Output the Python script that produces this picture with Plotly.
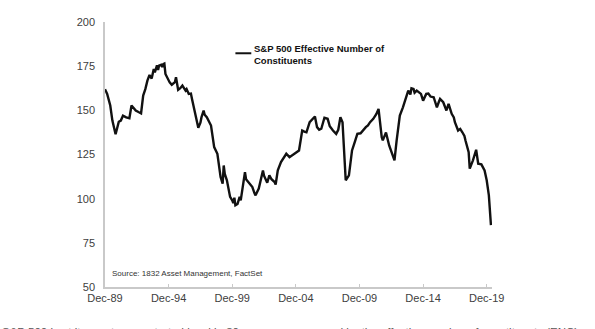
import plotly.graph_objects as go

# S&P 500 effective number of constituents, month-end readings
dates = [
    "1989-12", "1990-02", "1990-05", "1990-07", "1990-10", "1990-12", "1991-01", "1991-03",
    "1991-05", "1991-08", "1991-11", "1992-01", "1992-03", "1992-05", "1992-08", "1992-10",
    "1992-12", "1993-02", "1993-04", "1993-05", "1993-06", "1993-08", "1993-10", "1993-11",
    "1993-12", "1994-01", "1994-02", "1994-03", "1994-05", "1994-06", "1994-07", "1994-08",
    "1994-09", "1995-01", "1995-03", "1995-05", "1995-06", "1995-07", "1995-08", "1995-09",
    "1995-11", "1996-01", "1996-04", "1996-05", "1996-07", "1996-09", "1996-10", "1997-01",
    "1997-04", "1997-06", "1997-07", "1997-09", "1997-10", "1997-12", "1998-02", "1998-04",
    "1998-07", "1998-09", "1998-10", "1999-01", "1999-03", "1999-04", "1999-05", "1999-07",
    "1999-09", "1999-10", "1999-12", "2000-01", "2000-02", "2000-03", "2000-05", "2000-07",
    "2000-08", "2000-10", "2000-12", "2001-01", "2001-03", "2001-05", "2001-07", "2001-09",
    "2001-10", "2002-01", "2002-03", "2002-05", "2002-06", "2002-08", "2002-09", "2002-11",
    "2003-01", "2003-04", "2003-05", "2003-07", "2003-10", "2004-03", "2004-06", "2005-03",
    "2005-06", "2005-08", "2005-10", "2006-01", "2006-04", "2006-06", "2006-08", "2006-10",
    "2006-12", "2007-03", "2007-06", "2007-08", "2007-11", "2008-02", "2008-04", "2008-06",
    "2008-08", "2008-11", "2009-02", "2009-05", "2009-08", "2009-10", "2010-01", "2010-03",
    "2010-06", "2010-08", "2010-10", "2011-01", "2011-04", "2011-06", "2011-08", "2011-09",
    "2011-10", "2011-12", "2012-01", "2012-04", "2012-09", "2012-11", "2013-02", "2013-05",
    "2013-08", "2013-10", "2013-12", "2014-01", "2014-03", "2014-04", "2014-06", "2014-10",
    "2014-12", "2015-03", "2015-05", "2015-07", "2015-10", "2015-12", "2016-01", "2016-03",
    "2016-04", "2016-07", "2016-09", "2016-10", "2016-12", "2017-01", "2017-03", "2017-05",
    "2017-06", "2017-09", "2017-11", "2018-01", "2018-03", "2018-04", "2018-07", "2018-08",
    "2018-11", "2019-02", "2019-04", "2019-07", "2019-10", "2019-12", "2020-02", "2020-04",
]
enc = [
    162, 159.3, 152.7, 144.2, 136.5, 142.4, 143.5, 144.2,
    147, 146, 145.5, 152.7, 151.5, 149.9, 148.9, 148.3,
    158.4, 162, 166.8, 168.5, 170, 168, 173.4, 171.5,
    174.3, 175.5, 172.8, 175.3, 175.8, 174.5, 176.2, 176.5,
    170.6, 165.8, 164.5, 165.3, 166, 168.7, 166, 161.6,
    162.5, 164, 161.2, 162, 159.3, 159.5, 156.5, 148.9,
    140.1, 143, 146, 149.9, 147.5, 146.1, 143.5, 141.4,
    129.2, 127, 125.4, 112.2, 108.5, 118.8, 114, 110.4,
    104.7, 101, 99.1, 97.5, 100.5, 96.3, 97, 101,
    99, 108.5, 115, 111, 109.4, 108, 106.6, 103,
    101.9, 105.7, 110, 116, 113, 110.4, 109, 113.2,
    111, 109.4, 108, 116, 120.7, 125.4, 123.5, 127.3,
    138.6, 138, 137.6, 143.3, 145, 146.5, 140.5, 139,
    139.6, 145.8, 145.2, 141, 138.6, 136.7, 139, 146.1,
    143.3, 110.4, 113.2, 127.3, 132.9, 136.7, 137, 138.6,
    140.5, 141.5, 143.3, 145.2, 148, 150.8, 140, 134.8,
    133, 136.7, 137.5, 130.1, 121.7, 132.9, 147, 151.7,
    157.4, 161.2, 159, 162.5, 162.1, 160, 161.2, 159.3,
    155.5, 159.3, 159.5, 157.8, 157.4, 153, 151.7, 155,
    156.5, 154.6, 152, 149.9, 153.7, 151.5, 148, 146,
    143.3, 138.6, 139.5, 137.6, 135.5, 132.9, 126.3, 117,
    121.7, 127.7, 119.8, 119.4, 116, 110.4, 101.9, 85,
]

x_tick_vals = ["1989-12-01", "1994-12-01", "1999-12-01", "2004-12-01",
               "2009-12-01", "2014-12-01", "2019-12-01"]
x_tick_text = ["Dec-89", "Dec-94", "Dec-99", "Dec-04", "Dec-09", "Dec-14", "Dec-19"]
y_tick_vals = [50, 75, 100, 125, 150, 175, 200]

series_name = "S&P 500 Effective Number of<br>Constituents"
source_note = "Source: 1832 Asset Management, FactSet"
caption = ("S&P 500 is at its most concentrated level in 30 years, "
           "as measured by the effective number of constituents (ENC)")

FONT = "Arial, Liberation Sans, sans-serif"
AXIS_GREY = "#c9c9c9"

fig = go.Figure()
fig.add_trace(go.Scatter(
    x=dates, y=enc, mode="lines", name="ENC",
    line=dict(color="#111111", width=2.4),
    showlegend=False,
))

fig.update_layout(
    width=595, height=329,
    margin=dict(l=105, r=103, t=22, b=42),
    paper_bgcolor="white", plot_bgcolor="white",
    font=dict(family=FONT, size=11, color="#404040"),
    xaxis=dict(
        range=["1989-12-01", "2020-05-01"],
        tickvals=x_tick_vals, ticktext=x_tick_text,
        showgrid=False, zeroline=False,
        showline=True, linecolor=AXIS_GREY, linewidth=1.5,
        ticks="inside", ticklen=3, tickcolor=AXIS_GREY,
        tickfont=dict(size=11, color="#404040"),
    ),
    yaxis=dict(
        range=[50, 200],
        tickvals=y_tick_vals,
        showgrid=False, zeroline=False,
        showline=True, linecolor=AXIS_GREY, linewidth=1.5,
        ticks="", ticklabelstandoff=6,
        tickfont=dict(size=11, color="#404040"),
    ),
)

# key for the series
fig.add_shape(type="line", xref="paper", yref="paper",
              x0=0.337, x1=0.378, y0=0.882, y1=0.882,
              line=dict(color="#111111", width=2))
fig.add_annotation(
    xref="paper", yref="paper", x=0.38, y=0.93,
    xanchor="left", yanchor="top", align="left", showarrow=False,
    text="<b>" + series_name + "</b>",
    font=dict(family=FONT, size=9.5, color="#111111"),
)

fig.add_annotation(
    xref="paper", yref="paper", x=0.012, y=0.025,
    xanchor="left", yanchor="bottom", align="left", showarrow=False,
    text=source_note, font=dict(family=FONT, size=8, color="#333333"),
)

# caption sits just below the chart, running off the bottom edge
fig.add_annotation(
    xref="paper", yref="paper", x=-0.272, y=-0.14,
    xanchor="left", yanchor="top", align="left", showarrow=False,
    text=caption, font=dict(family=FONT, size=11.5, color="#555555"),
)

fig.write_html("out.html")
